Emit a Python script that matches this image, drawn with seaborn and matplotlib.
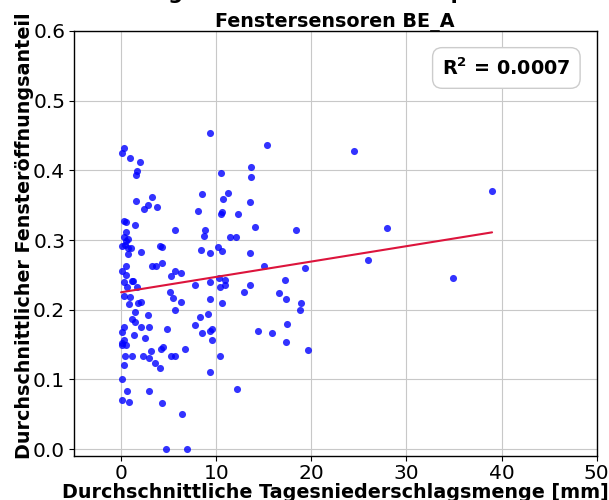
import numpy as np
import pandas as pd
import seaborn as sns
import matplotlib
matplotlib.use("Agg")
import matplotlib.pyplot as plt

# mean daily precipitation [mm] per day
niederschlag = [
    0.1, 0.35, 0.95, 2.0, 1.65, 1.55, 9.4, 10.5, 13.7, 13.7,
    8.55, 11.25, 10.7, 3.2, 1.55, 2.85, 2.45, 3.8, 8.1, 10.65,
    10.55, 12.25, 13.6, 0.35, 0.5, 1.45, 0.5, 5.65, 8.85, 8.7,
    11.4, 12.05, 14.05, 0.35, 0.5, 0.7, 0.14, 0.42, 0.77, 1.05,
    0.77, 2.1, 4.1, 4.35, 10.15, 9.4, 10.65, 8.4, 3.2, 3.7,
    4.35, 5.7, 5.25, 6.35, 0.14, 0.55, 0.5, 0.35, 0.6, 1.15,
    1.3, 1.7, 0.35, 0.95, 0.87, 1.75, 2.07, 1.45, 1.1, 1.47,
    2.85, 2.1, 2.9, 2.5, 1.35, 0.14, 0.35, 0.1, 0.35, 0.5,
    0.14, 5.1, 5.5, 5.65, 6.35, 4.85, 7.8, 8.3, 8.55, 9.15,
    9.3, 9.6, 9.55, 9.3, 9.3, 7.75, 10.3, 10.45, 10.6, 10.9,
    10.9, 12.95, 13.6, 14.4, 0.45, 1.2, 2.35, 0.32, 2.9, 3.15,
    3.6, 4.1, 4.2, 4.45, 5.3, 5.7, 6.7, 0.1, 0.14, 0.6,
    0.84, 2.9, 4.3, 6.45, 9.35, 10.45, 12.15, 4.75, 6.95, 15.35,
    24.45, 18.35, 27.95, 38.95, 13.6, 15.05, 19.35, 25.95, 17.25, 16.65,
    17.35, 18.95, 18.85, 34.85, 15.85, 17.45, 17.35, 19.6,
]

# mean share of open windows
oeffnungsanteil = [
    0.425, 0.432, 0.418, 0.412, 0.399, 0.394, 0.454, 0.396, 0.405, 0.390,
    0.366, 0.368, 0.359, 0.362, 0.356, 0.350, 0.345, 0.347, 0.342, 0.340,
    0.337, 0.337, 0.355, 0.327, 0.326, 0.322, 0.312, 0.315, 0.315, 0.306,
    0.304, 0.304, 0.319, 0.305, 0.299, 0.301, 0.291, 0.293, 0.289, 0.289,
    0.280, 0.283, 0.291, 0.290, 0.290, 0.282, 0.284, 0.285, 0.263, 0.263,
    0.267, 0.256, 0.249, 0.252, 0.255, 0.262, 0.250, 0.240, 0.232, 0.241,
    0.241, 0.233, 0.220, 0.218, 0.208, 0.209, 0.211, 0.196, 0.186, 0.182,
    0.193, 0.175, 0.175, 0.160, 0.164, 0.168, 0.175, 0.152, 0.157, 0.150,
    0.149, 0.225, 0.217, 0.200, 0.211, 0.173, 0.236, 0.190, 0.166, 0.194,
    0.169, 0.173, 0.157, 0.215, 0.240, 0.178, 0.246, 0.233, 0.210, 0.242,
    0.236, 0.226, 0.235, 0.170, 0.133, 0.133, 0.134, 0.121, 0.131, 0.141,
    0.124, 0.117, 0.144, 0.147, 0.133, 0.134, 0.144, 0.100, 0.071, 0.084,
    0.068, 0.083, 0.066, 0.050, 0.111, 0.133, 0.086, 0.0, 0.0, 0.437,
    0.428, 0.314, 0.317, 0.371, 0.282, 0.262, 0.260, 0.272, 0.243, 0.224,
    0.215, 0.210, 0.200, 0.245, 0.166, 0.180, 0.153, 0.142,
]

# regression line end points
fit_x = [0.0, 39.0]
fit_y = [0.225, 0.311]
r2_wert = "0.0007"


def streudiagramm():
    df = pd.DataFrame({'niederschlag': niederschlag, 'oeffnung': oeffnungsanteil})

    sns.set_style("whitegrid", {'axes.edgecolor': 'black', 'grid.color': '#c8c8c8',
                                'text.color': 'black', 'axes.labelcolor': 'black',
                                'xtick.color': 'black', 'ytick.color': 'black'})
    fig = plt.figure(figsize=(6.09, 5.0), dpi=100)
    ax = fig.add_axes([0.1207, 0.088, 0.8591, 0.850])

    sns.scatterplot(data=df, x='niederschlag', y='oeffnung', color='blue', alpha=0.8,
                    s=26, linewidth=0, ax=ax)
    sns.lineplot(x=fit_x, y=fit_y, color='crimson', linewidth=1.5, ax=ax)

    ax.set_xlim(-5, 50)
    ax.set_ylim(-0.01, 0.6)
    ax.set_xticks([0, 10, 20, 30, 40, 50])
    ax.set_yticks([0.0, 0.1, 0.2, 0.3, 0.4, 0.5, 0.6])
    ax.set_yticklabels(['0.0', '0.1', '0.2', '0.3', '0.4', '0.5', '0.6'])
    ax.tick_params(labelsize=14.5, length=3.5, pad=2.5, bottom=True, left=True,
                   color='black', labelcolor='black')
    for sp in ax.spines.values():
        sp.set_linewidth(1.0)

    ax.set_xlabel('Durchschnittliche Tagesniederschlagsmenge [mm]', fontsize=13.8,
                  fontweight='bold', color='black')
    ax.set_ylabel('Durchschnittlicher Fensteröffnungsanteil', fontsize=13.8,
                  fontweight='bold', color='black')
    ax.xaxis.set_label_coords(0.5, -0.0635)
    ax.yaxis.set_label_coords(-0.076, 0.518)
    ax.set_title('Fenstersensoren BE_A', fontsize=13.8, fontweight='bold', pad=3,
                 color='black')

    # first title line sits almost completely outside the picture
    fig.text(0.55, 1.002, 'Regen und Fenster im Haupthaus', fontsize=15,
             fontweight='bold', ha='center', va='baseline', color='black')

    ax.text(0.950, 0.913, f'R$^\\mathbf{{2}}$ = {r2_wert}', transform=ax.transAxes,
            fontsize=13.8, fontweight='bold', ha='right', va='center', color='black',
            bbox=dict(boxstyle='round,pad=0.5', facecolor='white', edgecolor='#cccccc'))

    fig.savefig('out.png', dpi=100)


if __name__ == "__main__":
    streudiagramm()
